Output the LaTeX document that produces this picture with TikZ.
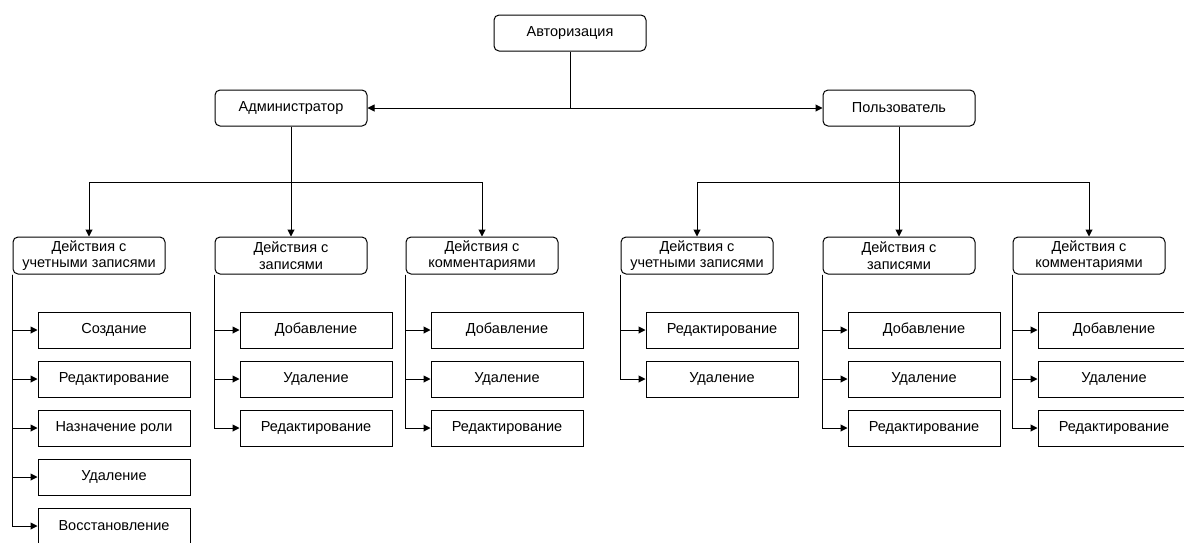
\documentclass[tikz,border=0pt]{standalone}
\usepackage{fontspec}
\setmainfont{Liberation Sans}
\usetikzlibrary{arrows.meta}

\begin{document}
\begin{tikzpicture}[x=1pt,y=-1pt,line width=1pt,
  font=\fontsize{14.5}{16.5}\selectfont,
  topbox/.style={draw,rounded corners=5pt,minimum width=152pt,minimum height=36pt,inner sep=1pt,align=center},
  leafbox/.style={draw,minimum width=152pt,minimum height=36pt,inner sep=1pt},
  arr/.style={-{Triangle[length=7pt,width=7pt]}}]
\path[use as bounding box] (0,0) rectangle (1184,542);
% top level
\node[topbox] (auth) at (570,33) {Авторизация};
\node[topbox] (admin) at (291,108) {Администратор};
\node[topbox] (user) at (899,108) {Пользователь};
\coordinate (hub) at (570,108);
\draw (auth.south) -- (hub);
\draw[arr] (hub) -- (admin.east);
\draw[arr] (hub) -- (user.west);
% action groups
\node[topbox,minimum height=37pt] (admacc) at (89,255.5) {Действия с\\учетными записями};
\node[topbox,minimum height=37pt] (admrec) at (291,255.5) {Действия с\\записями};
\node[topbox,minimum height=37pt] (admcom) at (482,255.5) {Действия с\\комментариями};
\node[topbox,minimum height=37pt] (usracc) at (697,255.5) {Действия с\\учетными записями};
\node[topbox,minimum height=37pt] (usrrec) at (899,255.5) {Действия с\\записями};
\node[topbox,minimum height=37pt] (usrcom) at (1089,255.5) {Действия с\\комментариями};
\coordinate (admbus) at (291,182);
\coordinate (usrbus) at (899,182);
\draw (admin.south) -- (admbus);
\draw[arr] (admbus) -| (admacc.north);
\draw[arr] (admbus) -- (admrec.north);
\draw[arr] (admbus) -| (admcom.north);
\draw (user.south) -- (usrbus);
\draw[arr] (usrbus) -| (usracc.north);
\draw[arr] (usrbus) -- (usrrec.north);
\draw[arr] (usrbus) -| (usrcom.north);
% administrator leaves
\node[leafbox] (admacc1) at (114,330) {Создание};
\node[leafbox] (admacc2) at (114,379) {Редактирование};
\node[leafbox] (admacc3) at (114,428) {Назначение роли};
\node[leafbox] (admacc4) at (114,477) {Удаление};
\node[leafbox] (admacc5) at (114,526) {Восстановление};
\node[leafbox] (admrec1) at (316,330) {Добавление};
\node[leafbox] (admrec2) at (316,379) {Удаление};
\node[leafbox] (admrec3) at (316,428) {Редактирование};
\node[leafbox] (admcom1) at (507,330) {Добавление};
\node[leafbox] (admcom2) at (507,379) {Удаление};
\node[leafbox] (admcom3) at (507,428) {Редактирование};
% user leaves
\node[leafbox] (usracc1) at (722,330) {Редактирование};
\node[leafbox] (usracc2) at (722,379) {Удаление};
\node[leafbox] (usrrec1) at (924,330) {Добавление};
\node[leafbox] (usrrec2) at (924,379) {Удаление};
\node[leafbox] (usrrec3) at (924,428) {Редактирование};
\node[leafbox] (usrcom1) at (1114,330) {Добавление};
\node[leafbox] (usrcom2) at (1114,379) {Удаление};
\node[leafbox] (usrcom3) at (1114,428) {Редактирование};
\foreach \i in {1,...,5} {\draw[arr] (admacc.south west) |- (admacc\i.west);}
\foreach \i in {1,2,3} {\draw[arr] (admrec.south west) |- (admrec\i.west);}
\foreach \i in {1,2,3} {\draw[arr] (admcom.south west) |- (admcom\i.west);}
\foreach \i in {1,2} {\draw[arr] (usracc.south west) |- (usracc\i.west);}
\foreach \i in {1,2,3} {\draw[arr] (usrrec.south west) |- (usrrec\i.west);}
\foreach \i in {1,2,3} {\draw[arr] (usrcom.south west) |- (usrcom\i.west);}
\end{tikzpicture}
\end{document}
